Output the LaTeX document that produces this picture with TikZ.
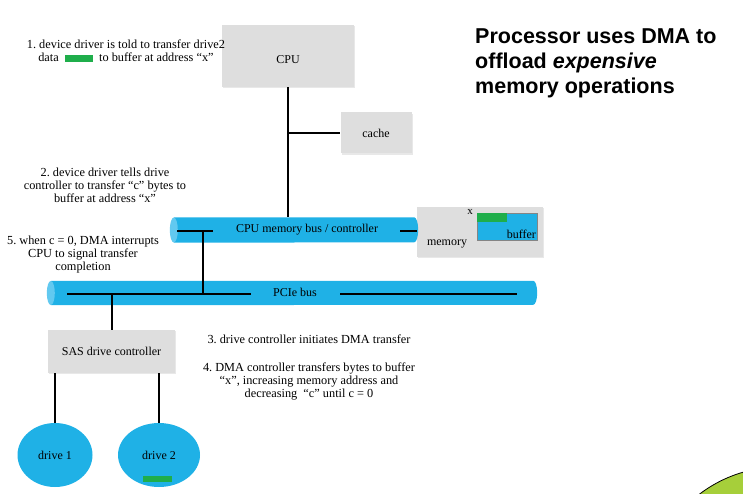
\documentclass[tikz,border=0pt]{standalone}
\usepackage{fontspec}
\setmainfont{Liberation Serif}
\newfontfamily\titlefont{Liberation Sans}
\usetikzlibrary{shapes.geometric, shadows}

\definecolor{boxgray}{HTML}{DEDEDE}
\definecolor{buscyan}{HTML}{1FB1E6}
\definecolor{busend}{HTML}{62C9F0}
\definecolor{datagreen}{HTML}{1FAE4B}
\definecolor{logogreen}{HTML}{A6CF3A}

\begin{document}
\frenchspacing
\begin{tikzpicture}[x=1pt, y=-1pt,
        graybox/.style={fill=boxgray, rectangle, inner sep=0pt, font=\fontsize{12}{13}\selectfont,
            drop shadow={opacity=0.18, shadow xshift=1.2pt, shadow yshift=-1.2pt}},
        busbody/.style={rectangle, inner sep=0pt, font=\fontsize{12}{13}\selectfont},
        drive/.style={ellipse, fill=buscyan, inner sep=0pt, font=\fontsize{12}{13}\selectfont},
        note/.style={align=center, font=\fontsize{12.3}{13}\selectfont},
        wire/.style={line width=1.1pt}
    ]
    \useasboundingbox (0, 0) rectangle (743, 494);

    % logo corner, cut off by the page
    \begin{scope}
        \clip (0, 0) rectangle (743, 494);
        \fill[logogreen, draw=black, line width=0.8pt] (780, 600) circle (133);
    \end{scope}

    \draw
        (288, 56) node (cpu) [graybox, minimum width=132, minimum height=62] {\raisebox{-8pt}[0pt][0pt]{CPU}}
        (376, 133) node (cache) [graybox, minimum width=71, minimum height=41] {cache}
        (480, 232) node (memory) [graybox, minimum width=126, minimum height=50] {}
        (507, 226.5) node (buffer) [fill=buscyan, draw=boxgray!60!black, line width=0.3pt,
            minimum width=60, minimum height=27, inner sep=0pt] {}
        (111.5, 351.5) node (sas) [graybox, minimum width=127, minimum height=43] {SAS drive controller}
        (55, 455) node (drive1) [drive, minimum width=75, minimum height=64] {drive 1}
        (159, 455) node (drive2) [drive, minimum width=82, minimum height=64] {drive 2}
    ;

    % buses
    \node (membus) [busbody, minimum width=240, minimum height=25] at (294, 230) {};
    \node (pcie) [busbody, minimum width=482, minimum height=24] at (292, 293) {};
    \foreach \b/\r in {membus/12.5pt, pcie/12pt} {
        \fill[buscyan] (\b.north west) -- (\b.north east)
            arc[start angle=90, end angle=-90, x radius=4pt, y radius=\r]
            -- (\b.south west) -- cycle;
        \fill[busend] (\b.west) ellipse[x radius=4pt, y radius=\r];
    }
    \node at (307, 230) {\fontsize{12}{13}\selectfont CPU memory bus / controller};
    \node at (295, 292) {\fontsize{12}{13}\selectfont PCIe bus};

    % inside the memory box
    \fill[datagreen] (buffer.north west) rectangle (507, 222);
    \node at (470, 212) {\fontsize{11}{12}\selectfont x};
    \node at (447, 244) {\fontsize{12}{13}\selectfont memory};
    \node[anchor=south east, inner sep=1pt] at (buffer.south east) {\fontsize{12}{13}\selectfont buffer};
    \fill[datagreen] (143, 476) rectangle (172, 482);

    % wires
    \coordinate (mb left) at (177, 231);
    \coordinate (mb tap) at (203, 231);
    \coordinate (pc left) at (67, 294);
    \coordinate (pc right) at (517, 294);
    \draw[wire]
        (cpu.south) -- (membus.north -| cpu.south)
        (288, 133) -- (cache.west)
        (mb left) -- (213, 231)
        (400, 231) -- (memory.west |- 400, 231)
        (mb tap) -- (203, 294)
        (pc left) -- (251, 294)
        (340, 294) -- (pc right)
        (112, 294) -- (sas.north -| 112, 0)
        (drive1.north |- sas.south) -- (drive1.north)
        (drive2.north) -- (drive2.north |- sas.south)
    ;

    % steps
    \node (step1) [note] at (126, 51) {1. device driver is told to transfer drive2\\
        data \ {\color{datagreen}\rule[-0.5pt]{28pt}{7pt}} \ to buffer at address ``x''};
    \node (step2) [note] at (105, 185) {2. device driver tells drive\\controller to transfer ``c'' bytes to\\buffer at address ``x''};
    \node (step5) [note] at (83, 255) {5. when c = 0, DMA interrupts\\CPU to signal transfer\\completion};
    \node (step3) [note, anchor=west] at (204, 339) {3. drive controller initiates DMA transfer};
    \node (step4) [note] at (309, 381) {4. DMA controller transfers bytes to buffer\\``x'', increasing memory address and\\decreasing \ ``c'' until c = 0};

    \node (title) [anchor=north west, align=left, inner sep=0pt,
        font=\titlefont\bfseries\fontsize{21.5}{25}\selectfont] at (475, 29)
        {Processor uses DMA to\\offload \textit{expensive}\\memory operations};

\end{tikzpicture}
\end{document}
